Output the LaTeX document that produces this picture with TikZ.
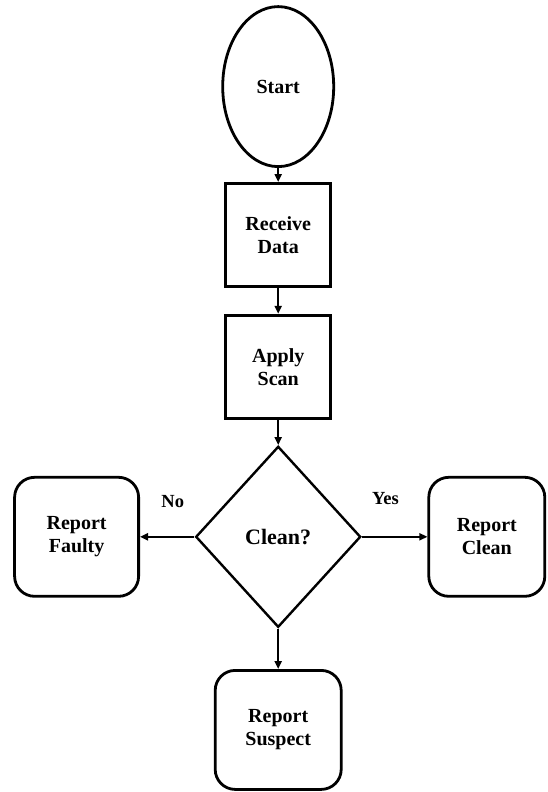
\documentclass[tikz,border=0pt]{standalone}
\usepackage{fontspec}
\setmainfont{Liberation Serif}
\usetikzlibrary{matrix,shapes.geometric,arrows.meta}

\begin{document}
\begin{tikzpicture}[
  font=\bfseries\fontsize{20}{23}\selectfont,
  term/.style={ellipse,draw,line width=2.8pt,minimum width=111pt,minimum height=160pt,inner sep=0pt},
  proc/.style={rectangle,draw,line width=2.8pt,minimum width=105pt,minimum height=103pt,align=center},
  test/.style={diamond,draw,line width=2.4pt,aspect=0.9,minimum width=165pt,minimum height=181pt,font=\bfseries\fontsize{22}{26}\selectfont},
  outcome/.style={rectangle,rounded corners=20pt,draw,line width=2.8pt,minimum height=119pt,align=center},
  flow/.style={line width=2pt,-{Triangle[length=8pt,width=7pt]}},
  answer/.style={inner sep=0pt,font=\bfseries\fontsize{18.5}{21}\selectfont}
]
\useasboundingbox (0,0) rectangle (548pt,-792pt);
\matrix (m) at (13pt,-5pt) [anchor=north west,inner sep=0pt,column sep=55pt,row sep=0pt,nodes={anchor=center}]
{
   & \node[term] (start) {Start}; &[11pt] \\[14pt]
   & \node[proc] (recv) {Receive\\Data}; & \\[26pt]
   & \node[proc] (scan) {Apply\\Scan}; & \\[26pt]
  \node[outcome,minimum width=124pt] (faulty) {Report\\Faulty}; & \node[test] (clean) {Clean?}; & \node[outcome,minimum width=116pt] (ok) {Report\\Clean}; \\[41pt]
   & \node[outcome,minimum width=126pt] (suspect) {Report\\Suspect}; & \\
};

\path[flow]
    (start) edge (recv)
    (recv) edge (scan)
    (scan) edge (clean);
\path[flow]
    (clean) edge node [answer,above=28pt,pos=0.4] {No} (faulty)
            edge node [answer,above=31pt,pos=0.36] {Yes} (ok)
            edge (suspect);
\end{tikzpicture}
\end{document}
